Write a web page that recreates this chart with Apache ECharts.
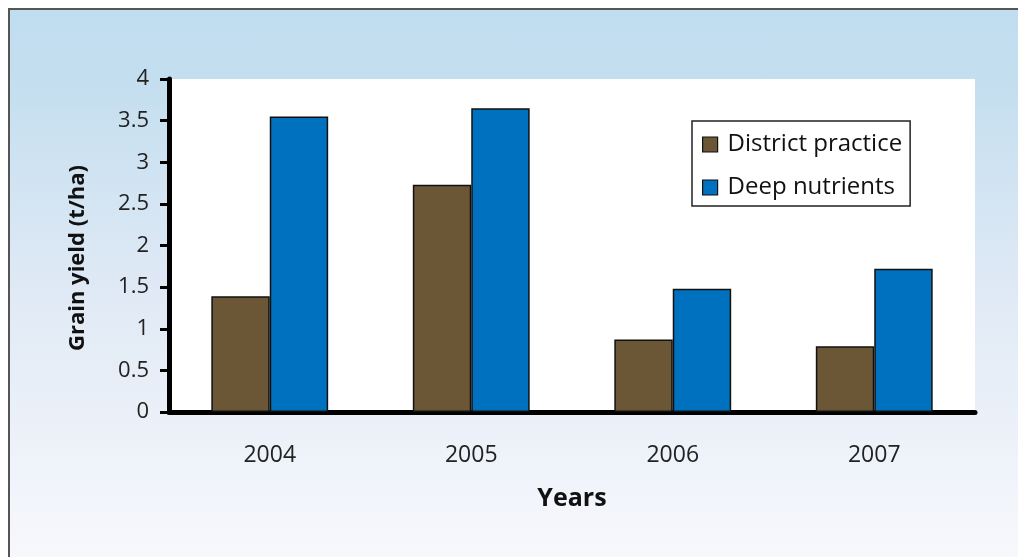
<!DOCTYPE html>
<html>
<head>
<meta charset="utf-8">
<script src="https://cdn.jsdelivr.net/npm/echarts@6/dist/echarts.min.js"></script>
<style>
  html, body { margin: 0; padding: 0; background: #fff; overflow: hidden; }
  #frame {
    position: fixed; left: 8px; top: 8px; right: 0; bottom: 0;
    border-top: 2px solid #555; border-left: 2px solid #555;
    background: linear-gradient(to bottom, #c0ddef 0%, #c3deef 12%, #dfe9f5 50%, #f7f8fc 100%);
  }
  #chart { position: fixed; left: 0; top: 0; width: 1018px; height: 557px; }
</style>
</head>
<body>
<div id="frame"></div>
<div id="chart"></div>
<script>
// data
const years = ['2004', '2005', '2006', '2007']
const districtPractice = [1.39, 2.73, 0.87, 0.79]
const deepNutrients = [3.55, 3.65, 1.48, 1.72]

const font = '"Open Sans", "Noto Sans", sans-serif'

const chart = echarts.init(document.getElementById('chart'))
chart.setOption({
  backgroundColor: 'transparent',
  animation: false,
  textStyle: { fontFamily: font },
  grid: {
    left: 169, right: 43, top: 79, bottom: 145,
    show: true, backgroundColor: '#ffffff', borderWidth: 0
  },
  legend: {
    orient: 'vertical',
    left: 692, top: 121,
    padding: [10, 8, 5, 10],
    itemGap: 16,
    itemWidth: 15, itemHeight: 15,
    backgroundColor: '#ffffff',
    borderColor: '#222', borderWidth: 1.5, borderRadius: 0,
    icon: 'rect',
    itemStyle: { borderColor: '#111', borderWidth: 1.2 },
    textStyle: {
      fontSize: 24, lineHeight: 27, color: '#111', fontFamily: font,
      padding: [0, 0, 0, 5]
    },
    data: ['District practice', 'Deep nutrients']
  },
  xAxis: {
    type: 'category',
    data: years,
    name: 'Years',
    nameLocation: 'middle',
    nameGap: 74,
    nameTextStyle: { fontSize: 25, fontWeight: 'bold', color: '#111', fontFamily: font },
    axisLine: { lineStyle: { color: '#000', width: 5 } },
    axisTick: { show: false },
    axisLabel: { fontSize: 23, color: '#222', margin: 32 }
  },
  yAxis: {
    type: 'value',
    min: 0, max: 4, interval: 0.5,
    name: 'Grain yield (t/ha)',
    nameLocation: 'middle',
    nameGap: 80,
    nameTextStyle: { fontSize: 22, fontWeight: 'bold', color: '#111', fontFamily: font, padding: [0, 25, 0, 0] },
    axisLine: { show: true, lineStyle: { color: '#000', width: 5 } },
    axisTick: { show: true, inside: false, length: 9, lineStyle: { color: '#000', width: 3 } },
    axisLabel: { fontSize: 22, color: '#222', margin: 20 },
    splitLine: { show: false }
  },
  series: [
    {
      name: 'District practice',
      type: 'bar',
      data: districtPractice,
      barGap: 0,
      barCategoryGap: '42%',
      itemStyle: { color: '#6b5635', borderColor: '#111', borderWidth: 1.5 }
    },
    {
      name: 'Deep nutrients',
      type: 'bar',
      data: deepNutrients,
      barGap: 0,
      barCategoryGap: '42%',
      itemStyle: { color: '#0071bf', borderColor: '#111', borderWidth: 1.5 }
    }
  ]
})
</script>
</body>
</html>
